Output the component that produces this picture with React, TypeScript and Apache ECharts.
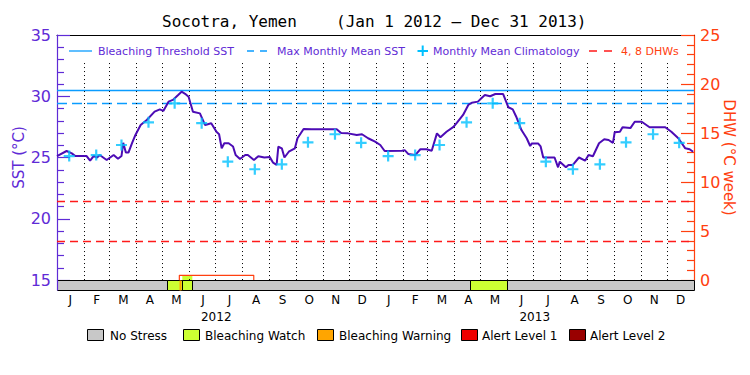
import React, { useEffect, useRef } from 'react';
import * as echarts from 'echarts';

const titleText = 'Socotra, Yemen';
const rangeText = '(Jan 1 2012 – Dec 31 2013)';
const monthLetters = ['J', 'F', 'M', 'A', 'M', 'J', 'J', 'A', 'S', 'O', 'N', 'D'];
const yearLabels = ['2012', '2013'];

// SST (°C), day index since Jan 1 2012
const sstDays = [0, 11, 17, 21, 34, 38, 42, 46, 49, 57, 65, 70, 74, 76, 79, 82, 86, 90, 96, 103, 112, 118, 122, 128, 133, 139, 143, 147, 151, 156, 164, 170, 177, 183, 186, 189, 192, 197, 202, 205, 210, 216, 219, 226, 231, 238, 244, 248, 252, 254, 258, 261, 266, 273, 276, 283, 292, 298, 321, 326, 334, 344, 350, 357, 365, 371, 376, 396, 399, 403, 411, 417, 424, 430, 436, 440, 447, 455, 459, 466, 472, 476, 483, 487, 491, 497, 503, 512, 518, 523, 527, 533, 539, 543, 545, 552, 555, 558, 562, 571, 575, 577, 584, 587, 592, 599, 606, 610, 615, 622, 628, 633, 638, 640, 646, 649, 658, 663, 671, 680, 698, 705, 713, 721, 726, 730];
const sstValues = [25.12, 25.53, 25.34, 25.12, 25.12, 24.74, 25.12, 25.0, 25.2, 24.8, 25.2, 24.9, 25.12, 26.2, 25.4, 25.4, 26.16, 26.84, 27.65, 28.06, 28.74, 28.93, 28.8, 29.56, 29.7, 30.1, 30.37, 30.2, 29.96, 28.74, 28.6, 27.65, 27.8, 27.1, 26.9, 25.75, 26.16, 26.16, 25.9, 25.2, 24.88, 25.2, 25.2, 24.8, 25.1, 25.0, 25.05, 24.58, 24.39, 25.88, 25.75, 25.0, 25.47, 25.75, 26.57, 27.33, 27.3, 27.3, 27.3, 27.0, 26.97, 26.84, 26.9, 26.57, 26.29, 26.02, 25.53, 25.55, 25.6, 25.29, 25.2, 25.67, 25.67, 25.55, 26.97, 26.65, 27.1, 27.5, 27.84, 28.47, 29.29, 29.47, 29.56, 29.83, 30.1, 30.0, 30.18, 30.18, 29.1, 28.93, 28.33, 27.24, 26.57, 25.94, 26.15, 26.15, 25.9, 25.0, 25.0, 25.0, 24.2, 24.66, 24.2, 24.39, 24.39, 25.0, 24.74, 25.2, 25.1, 26.16, 26.49, 26.43, 26.2, 27.06, 27.1, 27.47, 27.4, 27.92, 27.92, 27.47, 27.47, 27.1, 26.57, 25.75, 25.67, 25.47];
const climatologyValues = [25.12, 25.2, 26.02, 27.87, 29.42, 27.8, 24.66, 24.04, 24.44, 26.24, 26.9, 26.2];
const bleachingThreshold = 30.49;
const maxMonthlyMean = 29.42;
const dhwGuides = [4, 8];
const dhwDays = [140.4, 140.4, 225.8, 225.8];
const dhwValues = [0, 0.48, 0.48, 0];
const dhwFillDays = [143.8, 155.3];
const stressStart = [0, 126.6, 143.8, 140.4, 473.6];
const stressEnd = [731, 143.8, 155.3, 143.1, 516.1];
const stressLevel = [0, 1, 1, 2, 1];
const stressNames = ['No Stress', 'Bleaching Watch', 'Bleaching Warning', 'Alert Level 1', 'Alert Level 2'];
const legendNames = ['Bleaching Threshold SST', 'Max Monthly Mean SST', 'Monthly Mean Climatology', '4, 8 DHWs'];

const FONT = 'DejaVu Sans';
const MONO = 'DejaVu Sans Mono';
const PURPLE = '#5f2bd6';
const LINE_PURPLE = '#4c0bb5';
const BLUE = '#0a9cff';
const CYAN = '#00c0ff';
const ORANGE = '#ff4010';
const RED = '#ff1a1a';
const stressColors = ['#c8c8c8', '#ccff33', '#ffa500', '#ee0000', '#990000'];

const DAY = 86400000;
const T0 = Date.UTC(2012, 0, 1);
const monthStarts: number[] = [];
for (let i = 0; i <= 24; i++) monthStarts.push((Date.UTC(2012, i, 1) - T0) / DAY);
const TOTAL = monthStarts[24];

const PLUS = 'path://M4,0H6V4H10V6H6V10H4V6H0V4H4Z';

function buildOption() {
  const sstData = sstDays.map((d, i) => [d, sstValues[i]]);
  const climData: number[][] = [];
  for (let y = 0; y < 2; y++) for (let m = 0; m < 12; m++) climData.push([monthStarts[y * 12 + m] + 14, climatologyValues[m]]);
  const dhwData = dhwDays.map((d, i) => [d, dhwValues[i]]);
  const stressData = stressStart.map((s, i) => [s, stressEnd[i], stressLevel[i]]);
  const monthCats = yearLabels.flatMap((y) => monthLetters.map((_, i) => `${y}|${i}`));

  const monthLines = monthStarts.slice(1, 24).map((d) => [
    { coord: [d, 32.71], lineStyle: { color: '#000', width: 1, type: [1, 3] } },
    { coord: [d, 15] },
  ]);

  const legY = 51;
  const graphic: any[] = [
    { type: 'text', x: 162, y: 21, style: { text: titleText, fontSize: 16, fontFamily: MONO, fill: '#000', verticalAlign: 'middle' } },
    { type: 'text', x: 336, y: 21, style: { text: rangeText, fontSize: 16, fontFamily: MONO, fill: '#000', verticalAlign: 'middle' } },
    { type: 'line', shape: { x1: 69, y1: legY, x2: 92, y2: legY }, style: { stroke: BLUE, lineWidth: 1.3 } },
    { type: 'text', x: 98, y: legY, style: { text: legendNames[0], fontSize: 11, fontFamily: FONT, fill: PURPLE, verticalAlign: 'middle' } },
    { type: 'line', shape: { x1: 247, y1: legY, x2: 268, y2: legY }, style: { stroke: BLUE, lineWidth: 1.3, lineDash: [7, 6] } },
    { type: 'text', x: 277, y: legY, style: { text: legendNames[1], fontSize: 11, fontFamily: FONT, fill: PURPLE, verticalAlign: 'middle' } },
    { type: 'line', shape: { x1: 417.5, y1: legY, x2: 428, y2: legY }, style: { stroke: CYAN, lineWidth: 2 } },
    { type: 'line', shape: { x1: 422.7, y1: legY - 5.5, x2: 422.7, y2: legY + 5 }, style: { stroke: CYAN, lineWidth: 2 } },
    { type: 'text', x: 433, y: legY, style: { text: legendNames[2], fontSize: 11, fontFamily: FONT, fill: PURPLE, verticalAlign: 'middle' } },
    { type: 'line', shape: { x1: 589, y1: legY, x2: 612, y2: legY }, style: { stroke: RED, lineWidth: 1.3, lineDash: [8, 7] } },
    { type: 'text', x: 621, y: legY, style: { text: legendNames[3], fontSize: 11, fontFamily: FONT, fill: ORANGE, verticalAlign: 'middle' } },
  ];
  const boxX = [87, 183, 317, 461, 569];
  const textX = [110, 205, 339, 482, 590];
  stressNames.forEach((n, i) => {
    graphic.push({ type: 'rect', shape: { x: boxX[i] + 0.5, y: 329.5, width: 16, height: 11 }, style: { fill: stressColors[i], stroke: '#000', lineWidth: 1 } });
    graphic.push({ type: 'text', x: textX[i], y: 335.5, style: { text: n, fontSize: 12, fontFamily: FONT, fill: '#000', verticalAlign: 'middle' } });
  });

  return {
    animation: false,
    textStyle: { fontFamily: FONT },
    grid: [
      { left: 57, right: 56, top: 35, height: 245 },
      { left: 57, right: 56, top: 280, height: 10 },
    ],
    xAxis: [
      { gridIndex: 0, type: 'value', min: 0, max: TOTAL, show: false },
      {
        gridIndex: 0, type: 'value', position: 'top', min: 0, max: TOTAL,
        axisLine: { show: true, onZero: false, lineStyle: { color: '#000', width: 1 } },
        axisTick: { show: false }, axisLabel: { show: false }, splitLine: { show: false },
      },
      { gridIndex: 1, type: 'value', min: 0, max: TOTAL, show: false },
      {
        gridIndex: 1, type: 'category', position: 'bottom', data: monthCats, boundaryGap: true,
        axisLine: { show: false }, axisTick: { show: false }, splitLine: { show: false },
        axisLabel: { interval: 0, color: '#000', fontSize: 12, margin: 4, formatter: (v: string) => monthLetters[+v.split('|')[1]] },
      },
      {
        gridIndex: 1, type: 'category', position: 'bottom', offset: 18, data: yearLabels, boundaryGap: true,
        axisLine: { show: false }, axisTick: { show: false }, splitLine: { show: false },
        axisLabel: { interval: 0, color: '#000', fontSize: 12, margin: 3 },
      },
    ],
    yAxis: [
      {
        gridIndex: 0, type: 'value', position: 'left', min: 15, max: 35, interval: 5,
        axisLine: { show: true, onZero: false, lineStyle: { color: PURPLE, width: 1.2 } },
        axisTick: { show: true, inside: true, length: 13, lineStyle: { color: PURPLE, width: 1.2 } },
        minorTick: { show: true, splitNumber: 5, length: 7, lineStyle: { color: PURPLE, width: 1.2 } },
        axisLabel: { color: PURPLE, fontSize: 16, margin: 6 },
        splitLine: { show: false },
        name: 'SST (°C)', nameLocation: 'middle', nameGap: 31, nameMoveOverlap: false,
        nameTextStyle: { color: PURPLE, fontSize: 15 },
      },
      {
        gridIndex: 0, type: 'value', position: 'right', min: 0, max: 25, interval: 5,
        axisLine: { show: true, onZero: false, lineStyle: { color: ORANGE, width: 1.2 } },
        axisTick: { show: true, inside: true, length: 13, lineStyle: { color: ORANGE, width: 1.2 } },
        minorTick: { show: true, splitNumber: 5, length: 7, lineStyle: { color: ORANGE, width: 1.2 } },
        axisLabel: { color: ORANGE, fontSize: 16, margin: 6 },
        splitLine: { show: false },
        name: 'DHW (°C week)', nameLocation: 'middle', nameGap: 27, nameRotate: -90, nameMoveOverlap: false,
        nameTextStyle: { color: ORANGE, fontSize: 15 },
      },
      {
        gridIndex: 1, type: 'value', min: 0, max: 1, z: 10,
        axisLine: { show: true, onZero: false, lineStyle: { color: PURPLE, width: 1.2 } },
        axisTick: { show: false }, axisLabel: { show: false }, splitLine: { show: false },
      },
    ],
    series: [
      {
        type: 'custom', xAxisIndex: 2, yAxisIndex: 2, clip: false, silent: true,
        encode: { x: [0, 1], y: 2 },
        data: stressData,
        renderItem: (_p: any, api: any) => {
          const s = api.coord([api.value(0), 1]);
          const e = api.coord([api.value(1), 0]);
          const lvl = api.value(2);
          return {
            type: 'rect',
            shape: { x: Math.round(s[0]) + 0.5, y: Math.round(s[1]) + 0.5, width: Math.round(e[0] - s[0]), height: Math.round(e[1] - s[1]) },
            style: { fill: stressColors[lvl], stroke: lvl === 2 ? 'none' : '#000', lineWidth: 1 },
          };
        },
      },
      {
        type: 'line', name: 'DHW', xAxisIndex: 0, yAxisIndex: 1, data: dhwData, symbol: 'none',
        lineStyle: { color: ORANGE, width: 1.2 }, z: 3, silent: true,
        markArea: {
          silent: true,
          itemStyle: { color: stressColors[1] },
          data: [[{ xAxis: dhwFillDays[0], yAxis: 0 }, { xAxis: dhwFillDays[1], yAxis: dhwValues[1] }]],
        },
        markLine: {
          silent: true, symbol: ['none', 'none'], label: { show: false },
          lineStyle: { color: RED, width: 1.3, type: [8, 5] },
          data: dhwGuides.map((v) => ({ yAxis: v })),
        },
      },
      {
        type: 'line', name: 'Daily SST', xAxisIndex: 0, yAxisIndex: 0, data: sstData, symbol: 'none',
        lineStyle: { color: LINE_PURPLE, width: 2 }, z: 5, silent: true,
        markLine: {
          silent: true, symbol: ['none', 'none'], label: { show: false }, z: 1,
          data: [
            { yAxis: bleachingThreshold, lineStyle: { color: BLUE, width: 1.3, type: 'solid' } },
            { yAxis: maxMonthlyMean, lineStyle: { color: BLUE, width: 1.3, type: [10, 5] } },
            ...monthLines,
          ],
        },
      },
      {
        type: 'scatter', name: 'Monthly Mean Climatology', xAxisIndex: 0, yAxisIndex: 0, data: climData,
        symbol: PLUS, symbolSize: 11, itemStyle: { color: CYAN }, z: 6, silent: true,
      },
    ],
    graphic,
  };
}

export default function App() {
  const ref = useRef<HTMLDivElement>(null);
  useEffect(() => {
    if (!ref.current) return;
    const chart = echarts.init(ref.current, null, { renderer: 'svg' });
    chart.setOption(buildOption() as any);
    return () => chart.dispose();
  }, []);
  return <div ref={ref} style={{ position: 'absolute', left: 0, top: 0, width: 750, height: 375, background: '#fff' }} />;
}
